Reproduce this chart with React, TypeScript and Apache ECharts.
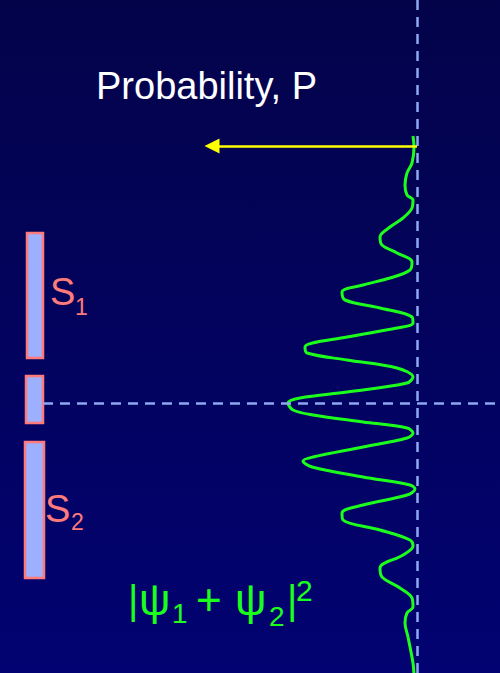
import React, { useEffect, useRef } from "react";
import * as echarts from "echarts";

// Interference pattern: probability P (to the left) versus screen position (pixels-like units, 0 = centre line)
const curveP = [0, -1, 1, 6, 8, 6, 0, 1, 10, 23, 33, 31, 16, 1, 3, 23, 50, 71, 68, 33, 1, 0, 16, 66, 108, 106, 66, 16, 0, 6, 66, 113, 125,
  120, 100, 50, 6, 0, 6, 50, 100, 110, 101, 50, 3, -2, 6, 50, 71, 70, 33, 3, 0, 10, 33, 31, 13, 1, 0, 6, 8, 5, 0, -1];
const curvePos = [267, 256, 240, 230, 218, 208, 203, 195, 185, 176, 166, 158, 150, 141, 133, 125, 118, 111, 103, 95, 86, 80, 75, 66, 56, 50, 43, 35, 26, 20, 11, 5, 0,
  -7, -12, -19, -25, -30, -35, -44, -54, -58, -64, -74, -82, -86, -92, -102, -110, -117, -127, -137, -143, -152, -165, -174, -185, -195, -204, -210, -220, -234, -260, -272];

// Barrier pieces (P-range and position range)
const slitNames = ["upper", "middle", "lower"];
const slitPLeft = [386, 387, 388];
const slitPRight = [370, 370, 369];
const slitTop = [170, 27, -39];
const slitBottom = [45, -20, -175];

// Guides
const centreLinePos = 0;
const screenLineP = -4;
const arrowPos = 257;
const arrowFromP = -4;
const arrowToP = 201;

// Axis ranges
const pRange = [-87, 413];
const posRange = [-270, 403];

const FONT = '"Liberation Sans", Arial, sans-serif';

export default function App() {
  const ref = useRef<HTMLDivElement>(null);
  useEffect(() => {
    if (!ref.current) return;
    const chart = echarts.init(ref.current, null, { renderer: "svg" });
    const curve = curveP.map((p, i) => [p, curvePos[i]]);
    const txt = (text: string, x: number, y: number, size: number, fill: string) => ({
      type: "text",
      x,
      y,
      silent: true,
      style: { text, font: `${size}px ${FONT}`, fill, textAlign: "left", textVerticalAlign: "middle" },
    });
    const pink = "#ff7a7a";
    const green = "#1cff1c";
    chart.setOption({
      animation: false,
      backgroundColor: {
        type: "linear", x: 0, y: 0, x2: 0, y2: 1,
        colorStops: [{ offset: 0, color: "#03034a" }, { offset: 1, color: "#020272" }],
      },
      grid: { left: 0, right: 0, top: 0, bottom: 0 },
      xAxis: { type: "value", min: pRange[0], max: pRange[1], inverse: true, show: false },
      yAxis: { type: "value", min: posRange[0], max: posRange[1], show: false },
      series: [
        {
          type: "line", name: "guides", data: [], z: 1, silent: true,
          markLine: {
            silent: true, symbol: ["none", "none"], label: { show: false },
            lineStyle: { color: "#8fa8f2", width: 2.5, type: [10, 7] },
            data: [
              { xAxis: screenLineP },
              [{ coord: [slitPRight[1], centreLinePos] }, { coord: [pRange[0], centreLinePos] }],
            ],
          },
          markArea: {
            silent: true, label: { show: false },
            itemStyle: { color: "#9db0ff", borderColor: pink, borderWidth: 2.5 },
            data: slitNames.map((n, i) => [
              { name: n, coord: [slitPLeft[i], slitTop[i]] },
              { coord: [slitPRight[i], slitBottom[i]] },
            ]),
          },
        },
        {
          type: "line", name: "arrow", data: [], z: 2, silent: true,
          markLine: {
            silent: true, label: { show: false },
            symbol: ["none", "triangle"], symbolSize: [15, 15],
            lineStyle: { color: "#ffff00", width: 2.5, type: "solid" },
            data: [[{ coord: [arrowFromP, arrowPos] }, { coord: [arrowToP, arrowPos] }]],
          },
        },
        {
          type: "line", name: "P", data: curve, z: 3, symbol: "none", smooth: 0.35,
          lineStyle: { color: green, width: 3 }, silent: true,
        },
      ],
      graphic: [
        txt("Probability, P", 96, 86, 38, "#ffffff"),
        txt("S", 50, 292, 38, pink),
        txt("1", 75, 307, 23, pink),
        txt("S", 45, 509, 38, pink),
        txt("2", 71, 522, 23, pink),
        txt("|", 128, 600, 40, green),
        txt("ψ", 139, 599, 44, green),
        txt("1", 172, 613, 28, green),
        txt("+", 196, 599, 44, green),
        txt("ψ", 235, 599, 44, green),
        txt("2", 269, 616, 28, green),
        txt("|", 287, 600, 40, green),
        txt("2", 296, 590, 30, green),
      ],
    });
    return () => chart.dispose();
  }, []);
  return <div ref={ref} style={{ position: "fixed", left: 0, top: 0, width: 500, height: 673 }} />;
}
